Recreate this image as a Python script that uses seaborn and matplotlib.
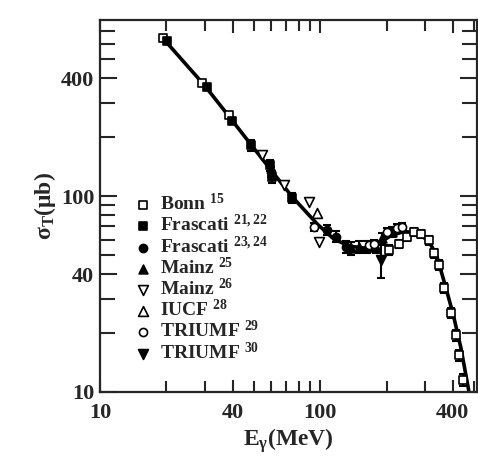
import numpy as np
import pandas as pd
import seaborn as sns
import matplotlib.pyplot as plt
from matplotlib.ticker import FixedLocator, LogLocator, NullFormatter

# total photoabsorption cross section
bonn_e = [19.3, 29.2, 38.4, 205, 228, 248, 266, 286, 311, 328, 345, 364, 392, 412, 426, 444]
bonn_s = [640, 377, 259, 53, 57, 62, 65.5, 64, 59.5, 51, 44.5, 34, 25.3, 19.5, 15.4, 11.5]
bonn_err = [0, 0, 0, 3, 3, 3, 3, 3, 3, 2.5, 2.5, 2, 1.5, 1.2, 1, 0.8]

fr1_e = [20.1, 30.5, 39.6, 48.7, 59.4, 60.7, 74.7]
fr1_s = [618, 360, 241, 182, 144, 125, 97.7]
fr1_err = [0, 0, 0, 12, 9, 8, 6]

fr2_e = [60.0, 107.6, 118, 131]
fr2_s = [133, 67, 62, 55]
fr2_err = [8, 4, 4, 4]

mz25_e = [138, 150, 163, 179, 191, 212]
mz25_s = [54, 55, 55, 55, 61, 65.5]
mz25_err = [4, 4, 4, 4, 4, 4]

mz26_e = [54.7, 68.7, 89.2, 98.9]
mz26_s = [162, 114, 93, 58]

iucf_e = [96.9]
iucf_s = [82]

tr29_e = [94.0, 167, 176, 201, 223, 235]
tr29_s = [69.5, 56, 57, 65.5, 68.7, 69.5]
tr29_err = [3, 3, 3, 3, 3, 3]

tr30_e = [189]
tr30_s = [47]
tr30_err = [9]

fit_e = [19.3, 29.8, 39.2, 48.7, 60, 74.7, 96.9, 115, 135, 158, 181, 208, 240, 275, 311, 338, 368, 402, 435, 472]
fit_s = [640, 368, 249, 182, 135, 99, 72, 60.5, 55.6, 54.3, 56.7, 62.5, 66, 64.8, 59, 49.5, 35.5, 24.7, 16.8, 10.2]

sns.set_style("ticks")
plt.rcParams["font.family"] = ["Liberation Serif", "DejaVu Serif"]
plt.rcParams["font.weight"] = "bold"
plt.rcParams["mathtext.fontset"] = "custom"
plt.rcParams["mathtext.rm"] = "Liberation Serif"
plt.rcParams["mathtext.it"] = "Liberation Serif:italic"
plt.rcParams["mathtext.bf"] = "Liberation Serif:bold"

fig = plt.figure(figsize=(4.78, 4.70), dpi=100)
ax = fig.add_axes([0.209, 0.166, 0.789, 0.791])

sns.lineplot(x=fit_e, y=fit_s, sort=False, color="black", linewidth=2.6, ax=ax, zorder=2)

series = [
    ("Bonn $^{\\mathrm{15}}$", bonn_e, bonn_s, bonn_err, "s", "white", 36),
    ("Frascati $^{\\mathrm{21,22}}$", fr1_e, fr1_s, fr1_err, "s", "black", 36),
    ("Frascati $^{\\mathrm{23,24}}$", fr2_e, fr2_s, fr2_err, "o", "black", 34),
    ("Mainz $^{\\mathrm{25}}$", mz25_e, mz25_s, mz25_err, "^", "black", 40),
    ("Mainz $^{\\mathrm{26}}$", mz26_e, mz26_s, None, "v", "white", 50),
    ("IUCF $^{\\mathrm{28}}$", iucf_e, iucf_s, None, "^", "white", 50),
    ("TRIUMF $^{\\mathrm{29}}$", tr29_e, tr29_s, tr29_err, "o", "white", 34),
    ("TRIUMF $^{\\mathrm{30}}$", tr30_e, tr30_s, tr30_err, "v", "black", 50),
]

for label, e, s, err, mk, fc, size in series:
    if err is not None:
        ax.errorbar(e, s, yerr=err, fmt="none", ecolor="black", elinewidth=1.5,
                    capsize=3, capthick=1.5, zorder=3)
    df = pd.DataFrame({"E": e, "sigma": s})
    sns.scatterplot(data=df, x="E", y="sigma", marker=mk, s=size, color=fc,
                    edgecolor="black", linewidth=1.2, label=label, ax=ax, zorder=4)

ax.set_xscale("log")
ax.set_yscale("log")
ax.set_xlim(10, 515)
ax.set_ylim(10, 790)

for axis, ticks in ((ax.xaxis, [10, 40, 100, 400]), (ax.yaxis, [10, 40, 100, 400])):
    axis.set_major_locator(FixedLocator(ticks))
    axis.set_major_formatter(plt.FuncFormatter(lambda v, p: f"{v:g}"))
    axis.set_minor_locator(LogLocator(base=10, subs=np.arange(2, 10)))
    axis.set_minor_formatter(NullFormatter())

ax.tick_params(which="both", direction="in", top=True, right=True, width=1.5)
ax.tick_params(axis="x", which="major", length=9, labelsize=16, pad=8)
ax.tick_params(axis="x", which="minor", length=8)
ax.tick_params(axis="y", which="major", length=12, labelsize=16, pad=4)
ax.tick_params(axis="y", which="minor", length=11)
for lab in ax.get_xticklabels() + ax.get_yticklabels():
    lab.set_fontweight("bold")
for sp in ax.spines.values():
    sp.set_linewidth(1.6)

ax.set_xlabel("E$_{\\mathrm{γ}}$(MeV)", fontsize=17, fontweight="bold", labelpad=2)
ax.set_ylabel("$\\mathrm{σ}_{\\mathrm{T}}$(μb)", fontsize=17, fontweight="bold", labelpad=2)

leg = ax.legend(loc="upper left", bbox_to_anchor=(0.062, 0.556), frameon=False,
                prop={"family": "Liberation Serif", "weight": "bold", "size": 14},
                handletextpad=0.3, labelspacing=0.0, borderaxespad=0, handlelength=1.2)

fig.savefig("out.png", dpi=100)
